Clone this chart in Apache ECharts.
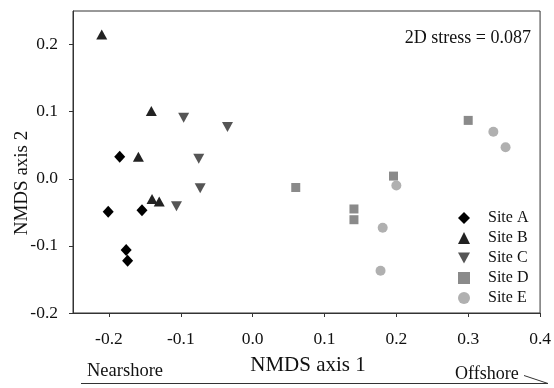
<!DOCTYPE html>
<html>
<head>
<meta charset="utf-8">
<title>NMDS</title>
<script src="https://cdn.jsdelivr.net/npm/echarts@6/dist/echarts.min.js"></script>
<style>
  html, body { margin: 0; padding: 0; background: #fff; }
  #chart { width: 554px; height: 388px; }
</style>
</head>
<body>
<div id="chart"></div>
<script>
// 各站点坐标 (NMDS axis 1, NMDS axis 2)
const siteA = [[-0.185, 0.033], [-0.201, -0.049], [-0.154, -0.047], [-0.176, -0.106], [-0.174, -0.122]];
const siteB = [[-0.210, 0.215], [-0.141, 0.101], [-0.159, 0.033], [-0.140, -0.030], [-0.130, -0.034]];
const siteC = [[-0.096, 0.091], [-0.035, 0.077], [-0.075, 0.030], [-0.073, -0.014], [-0.106, -0.041]];
const siteD = [[0.060, -0.013], [0.141, -0.045], [0.141, -0.061], [0.196, 0.004], [0.300, 0.087]];
const siteE = [[0.335, 0.070], [0.352, 0.047], [0.200, -0.010], [0.181, -0.073], [0.178, -0.137]];

const siteNames = ['Site A', 'Site B', 'Site C', 'Site D', 'Site E'];
const xTicks = [-0.2, -0.1, 0.0, 0.1, 0.2, 0.3, 0.4];
const yTicks = [-0.2, -0.1, 0.0, 0.1, 0.2];

const serif = '"Liberation Serif", "Times New Roman", serif';
// 倒三角图例
const downTriangle = 'path://M0,0 L10,0 L5,9 Z';

const chart = echarts.init(document.getElementById('chart'));

const makeSeries = (name, data, symbol, size, color, rotate) => ({
  name: name,
  type: 'scatter',
  data: data,
  symbol: symbol,
  symbolSize: size,
  symbolRotate: rotate || 0,
  itemStyle: { color: color, opacity: 1 },
  emphasis: { disabled: true }
});

const option = {
  animation: false,
  grid: {
    left: 73, right: 12, top: 11, bottom: 75,
    show: true, borderColor: '#333', borderWidth: 1
  },
  xAxis: {
    type: 'value',
    min: -0.25, max: 0.4,
    splitLine: { show: false },
    axisLine: { onZero: false, lineStyle: { color: '#333' } },
    axisTick: { length: 4, customValues: xTicks, lineStyle: { color: '#333' } },
    axisLabel: {
      customValues: xTicks,
      formatter: v => v.toFixed(1),
      margin: 17,
      color: '#111', fontFamily: serif, fontSize: 17.5
    }
  },
  yAxis: {
    type: 'value',
    min: -0.2, max: 0.25,
    splitLine: { show: false },
    axisLine: { onZero: false, lineStyle: { color: '#333' } },
    axisTick: { length: 4, customValues: yTicks, lineStyle: { color: '#333' } },
    axisLabel: {
      customValues: yTicks,
      formatter: v => v.toFixed(1),
      margin: 15,
      color: '#111', fontFamily: serif, fontSize: 17.5
    }
  },
  legend: {
    orient: 'vertical',
    left: 458, top: 210,
    padding: 0,
    itemWidth: 12, itemHeight: 12,
    itemGap: 4,
    selectedMode: false,
    textStyle: { color: '#111', fontFamily: serif, fontSize: 16, padding: [0, 0, 0, 13] },
    data: siteNames.map(n => (n === 'Site C' ? { name: n, icon: downTriangle } : n))
  },
  series: [
    makeSeries(siteNames[0], siteA, 'diamond', [11, 12], '#000000'),
    makeSeries(siteNames[1], siteB, 'triangle', [11, 10], '#222222'),
    makeSeries(siteNames[2], siteC, 'triangle', [11, 10], '#555555', 180),
    makeSeries(siteNames[3], siteD, 'rect', 9, '#8a8a8a'),
    makeSeries(siteNames[4], siteE, 'circle', 10, '#b0b0b0')
  ],
  graphic: [
    {
      type: 'text', x: 531, y: 38,
      style: { text: '2D stress = 0.087', align: 'right', verticalAlign: 'middle', fill: '#111', font: '18px ' + serif }
    },
    {
      type: 'text', x: 22, y: 183, rotation: Math.PI / 2,
      style: { text: 'NMDS axis 2', align: 'center', verticalAlign: 'middle', fill: '#111', font: '19px ' + serif }
    },
    {
      type: 'text', x: 308, y: 365,
      style: { text: 'NMDS axis 1', align: 'center', verticalAlign: 'middle', fill: '#111', font: '21px ' + serif }
    },
    {
      type: 'text', x: 87, y: 371,
      style: { text: 'Nearshore', align: 'left', verticalAlign: 'middle', fill: '#111', font: '18.5px ' + serif }
    },
    {
      type: 'text', x: 455, y: 374,
      style: { text: 'Offshore', align: 'left', verticalAlign: 'middle', fill: '#111', font: '18px ' + serif }
    },
    // 近岸 -> 离岸 箭头
    {
      type: 'polyline',
      shape: { points: [[81, 383.5], [548, 383.5]] },
      style: { stroke: '#333', lineWidth: 1, fill: null }
    },
    {
      type: 'polyline',
      shape: { points: [[524, 375.5], [548, 383.5]] },
      style: { stroke: '#333', lineWidth: 1, fill: null }
    }
  ]
};

chart.setOption(option);
</script>
</body>
</html>
